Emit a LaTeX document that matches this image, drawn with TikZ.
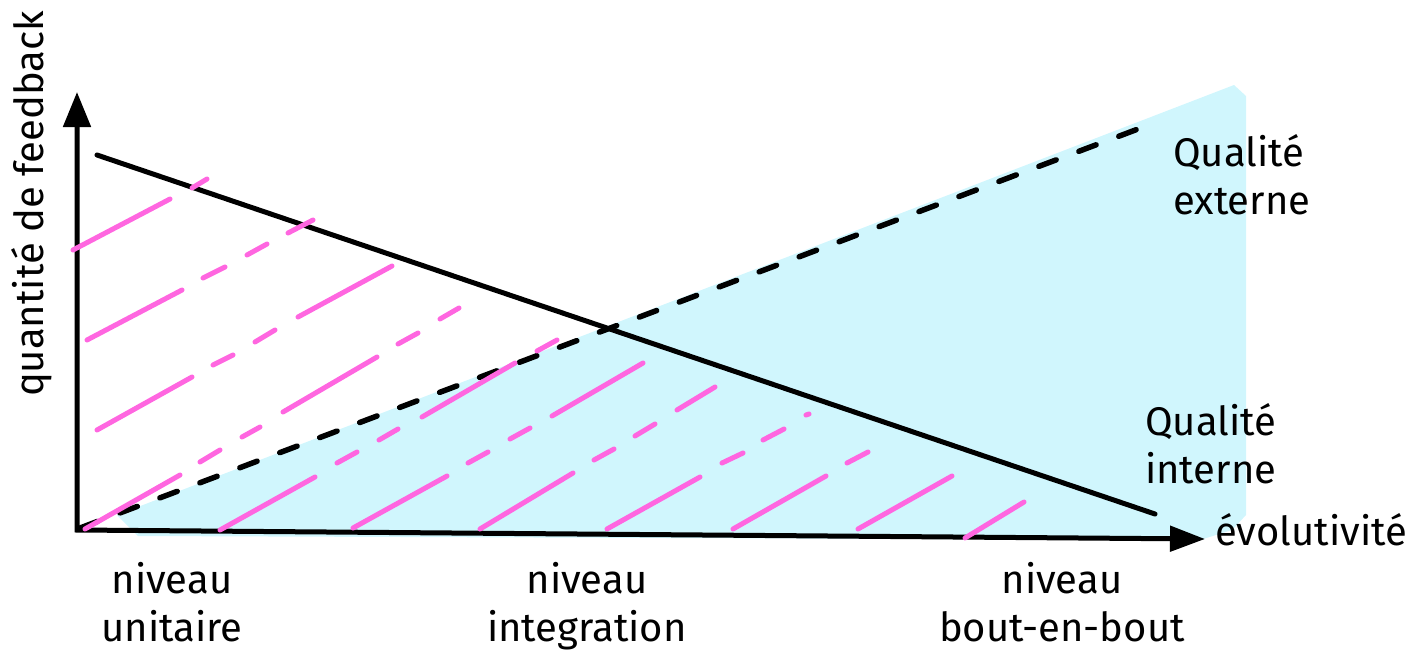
\documentclass[tikz,border=0pt]{standalone}
\usepackage{fontspec}
\setmainfont{Fira Sans}
\usetikzlibrary{arrows.meta}

\definecolor{hatchpink}{RGB}{255,102,224}
\definecolor{zonecyan}{RGB}{208,246,253}

\begin{document}
\begin{tikzpicture}[x=1pt, y=-1pt,
  axis/.style={line width=5pt, line join=miter,
    {Triangle[length=35pt,width=27pt]}-{Triangle[length=35pt,width=25pt]}},
  curve/.style={line width=5pt, line cap=round},
  hatch/.style={hatchpink, line width=5pt, line cap=round},
  txt/.style={font=\fontsize{40}{48}\selectfont, inner sep=0pt}]

  \useasboundingbox (0,0) rectangle (1421,654);

  % tinted zone above the dashed line
  \fill[zonecyan] (117,515) -- (1234,85) -- (1246,96) -- (1246,515)
    -- (1232,530) -- (1200,540) -- (138,536) -- cycle;

  % axes
  \coordinate (O) at (77,530);
  \coordinate (ytip) at (77,92);
  \coordinate (xtip) at (1205,539);
  \draw[axis] (ytip) -- (O) -- (xtip);

  % internal quality (solid) and external quality (dashed)
  \coordinate (qi1) at (97,155);
  \coordinate (qi2) at (1155,514);
  \coordinate (qe1) at (80,528);
  \coordinate (qe2) at (1138,129);
  \draw[curve] (qi1) -- (qi2);
  \draw[curve, line width=5.5pt, dash pattern=on 18.5pt off 24.2pt] (qe1) -- (qe2);

  % hatching
  \foreach \xa/\ya/\xb/\yb in {
      73/250/170/199, 192/188/207/179,
      87/340/182/290, 203/278/225/267, 247/255/267/244, 288/233/313/220,
      97/430/192/377, 213/365/233/355, 255/342/275/330, 298/317/392/266,
      85/529/180/475, 200/462/220/450, 242/437/260/427, 283/412/377/357,
      398/344/418/333, 440/319/459/308,
      220/530/315/477, 337/463/357/452, 379/440/398/429, 422/417/515/363,
      537/351/557/340,
      353/528/447/476, 468/463/488/452, 510/439/530/428, 552/416/643/363,
      480/529/573/473, 594/460/614/449, 635/436/655/424, 677/410/715/387,
      607/529/700/477, 722/463/743/453, 763/440/784/429, 806/415/809/414,
      733/529/826/476, 847/463/868/452,
      858/529/952/476,
      965/538/1024/502}
    \draw[hatch] (\xa,\ya) -- (\xb,\yb);

  % labels (base = last line)
  \node[txt, rotate=90, anchor=base] (feedback) at (43,204) {quantité de feedback};
  \node[txt, anchor=base west, align=left] (qext) at (1173,214) {Qualité\\externe};
  \node[txt, anchor=base west, align=left] (qint) at (1145,483) {Qualité\\interne};
  \node[txt, anchor=base west] (evol) at (1215,545) {évolutivité};
  \node[txt, anchor=base, align=center] (unit) at (172,641) {niveau\\unitaire};
  \node[txt, anchor=base, align=center] (integ) at (587,641) {niveau\\integration};
  \node[txt, anchor=base, align=center] (e2e) at (1062,641) {niveau\\bout-en-bout};

\end{tikzpicture}
\end{document}
